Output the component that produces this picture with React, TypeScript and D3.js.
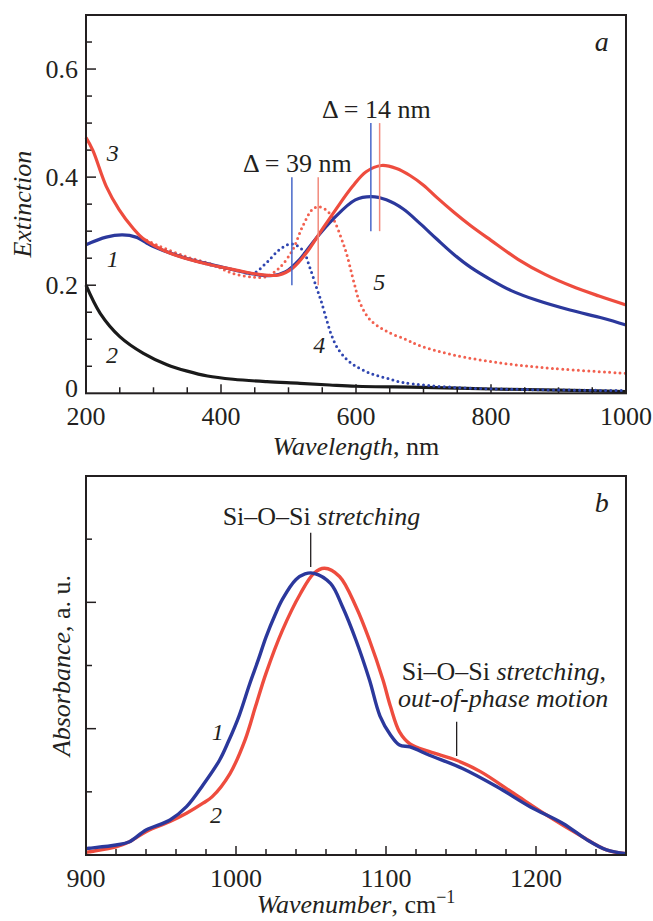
import React from "react";
import * as d3 from "d3";

// panel a: extinction spectra
const curve1Nm = [200, 230, 254, 274, 299, 348, 397, 447, 477, 496, 516, 541, 565, 599, 623, 645, 670, 695, 720, 745, 770, 800, 830, 868, 917, 966, 1000];
const curve1Ext = [0.275, 0.289, 0.293, 0.289, 0.272, 0.25, 0.235, 0.221, 0.218, 0.225, 0.247, 0.287, 0.321, 0.358, 0.364, 0.358, 0.341, 0.314, 0.285, 0.257, 0.233, 0.21, 0.19, 0.172, 0.154, 0.139, 0.1265];

const curve2Nm = [200, 221, 250, 285, 320, 350, 380, 418, 468, 517, 561, 600, 700, 800, 900, 1000];
const curve2Ext = [0.2, 0.148, 0.105, 0.074, 0.053, 0.041, 0.032, 0.026, 0.0215, 0.0185, 0.0154, 0.013, 0.011, 0.008, 0.006, 0.003];

const curve3Nm = [200, 210, 230, 249, 270, 284, 323, 373, 422, 462, 486, 506, 526, 546, 570, 595, 615, 638, 660, 680, 700, 720, 745, 770, 800, 840, 880, 920, 960, 1000];
const curve3Ext = [0.473, 0.45, 0.383, 0.34, 0.305, 0.287, 0.26, 0.241, 0.228, 0.219, 0.219, 0.2315, 0.259, 0.296, 0.34, 0.383, 0.41, 0.4215, 0.416, 0.403, 0.385, 0.362, 0.335, 0.31, 0.283, 0.248, 0.22, 0.198, 0.18, 0.1635];

const curve4Nm = [290, 314, 373, 422, 447, 467, 486, 504, 521, 531, 541, 548, 556, 563, 572, 586, 600, 621, 645, 670, 744, 850, 1000];
const curve4Ext = [0.278, 0.265, 0.241, 0.228, 0.222, 0.241, 0.265, 0.2765, 0.265, 0.235, 0.1975, 0.172, 0.138, 0.11, 0.085, 0.063, 0.05, 0.037, 0.028, 0.02, 0.011, 0.007, 0.005];

const curve5Nm = [290, 309, 348, 388, 417, 447, 467, 486, 506, 521, 536, 546, 561, 583, 597, 606, 621, 645, 675, 695, 744, 818, 892, 1000];
const curve5Ext = [0.283, 0.272, 0.253, 0.238, 0.222, 0.215, 0.216, 0.2315, 0.265, 0.309, 0.341, 0.345, 0.333, 0.27, 0.205, 0.167, 0.136, 0.115, 0.099, 0.088, 0.071, 0.0555, 0.046, 0.037];

const wlLabels = [200, 400, 600, 800, 1000];
const extLabels = [0, 0.2, 0.4, 0.6];

// panel b: IR absorbance
const ir1Wn = [900, 902, 920, 929, 940, 956, 967, 978, 989, 995, 1002, 1009, 1015, 1020, 1026, 1031, 1040, 1046, 1052, 1063, 1071, 1080, 1089, 1096, 1103, 1109, 1116, 1129, 1151, 1174, 1196, 1218, 1234, 1247, 1260];
const ir1Abs = [0.1, 0.106, 0.158, 0.21, 0.396, 0.554, 0.765, 1.108, 1.5, 1.8, 2.2, 2.7, 3.1, 3.45, 3.8, 4.05, 4.36, 4.45, 4.46, 4.3, 3.93, 3.4, 2.77, 2.2, 1.9, 1.74, 1.71, 1.58, 1.37, 1.08, 0.765, 0.5, 0.24, 0.08, 0.02];

const ir2Wn = [900, 902, 920, 929, 940, 956, 967, 978, 984, 996, 1006, 1013, 1020, 1031, 1043, 1052, 1059, 1069, 1080, 1089, 1098, 1103, 1109, 1116, 1129, 1147, 1163, 1185, 1207, 1229, 1247, 1260];
const ir2Abs = [0.04, 0.05, 0.13, 0.21, 0.37, 0.53, 0.66, 0.82, 0.92, 1.29, 1.82, 2.35, 2.876, 3.56, 4.14, 4.46, 4.54, 4.41, 3.93, 3.4, 2.77, 2.35, 1.95, 1.76, 1.635, 1.5, 1.32, 0.977, 0.633, 0.317, 0.08, 0.02];

const wnLabels = [900, 1000, 1100, 1200];

const RED = "#ee4c3e";
const BLUE = "#2b389c";
const FONT = "'Liberation Serif', 'Times New Roman', serif";

const L = 86, R = 626;
const aTop = 15, aBottom = 393.3;
const bTop = 476, bBottom = 855;

export default function App() {
  const xA = d3.scaleLinear().domain([200, 1000]).range([L, R]);
  const yA = d3.scaleLinear().domain([0, 0.7]).range([aBottom, aTop]);
  const xB = d3.scaleLinear().domain([900, 1260]).range([L, R]);
  const yB = d3.scaleLinear().domain([0, 6]).range([bBottom, bTop]);

  const lineA = (xs: number[], ys: number[]) =>
    d3.line<number>()
      .x((d, i) => xA(xs[i]))
      .y(d => yA(d))
      .curve(d3.curveCatmullRom.alpha(0.5))(ys) || "";
  const lineB = (xs: number[], ys: number[]) =>
    d3.line<number>()
      .x((d, i) => xB(xs[i]))
      .y(d => yB(d))
      .curve(d3.curveCatmullRom.alpha(0.5))(ys) || "";

  const wlTicks = d3.range(250, 1000, 50);
  const extTicks = d3.range(1, 14).map(i => i * 0.05);
  const wnTicks = d3.range(920, 1260, 20);
  const absTicks = [1, 2, 3, 4, 5];

  const txt = { fontFamily: FONT, fontSize: 26, fill: "#231f20" } as const;

  return (
    <svg width={653} height={921} style={{ position: "absolute", left: 0, top: 0, background: "#fff" }}>
      {/* ---------- panel a ---------- */}
      <g>
        {wlTicks.map(t => (
          <line key={"wt" + t} x1={xA(t)} x2={xA(t)} y1={aBottom} y2={aBottom - (t % 200 === 0 ? 9 : 6)} stroke="#231f20" strokeWidth={1.5} />
        ))}
        {extTicks.map(t => (
          <line key={"et" + t} x1={L} x2={L + (Math.round(t * 100) % 20 === 0 ? 10 : 6)} y1={yA(t)} y2={yA(t)} stroke="#231f20" strokeWidth={1.5} />
        ))}
        {wlLabels.map(t => (
          <text key={"wl" + t} x={xA(t)} y={aBottom + 32} textAnchor="middle" {...txt}>{t}</text>
        ))}
        {extLabels.map(t => (
          <text key={"el" + t} x={L - 8} y={yA(t) + (t === 0 ? 4 : 9)} textAnchor="end" {...txt}>{t}</text>
        ))}

        <path d={lineA(curve2Nm, curve2Ext)} fill="none" stroke="#1a1a1a" strokeWidth={3.2} />
        <path d={lineA(curve4Nm, curve4Ext)} fill="none" stroke="#2f45b0" strokeWidth={3} strokeDasharray="0 5.2" strokeLinecap="round" />
        <path d={lineA(curve5Nm, curve5Ext)} fill="none" stroke="#f2604f" strokeWidth={3} strokeDasharray="0 5.2" strokeLinecap="round" />
        <path d={lineA(curve1Nm, curve1Ext)} fill="none" stroke={BLUE} strokeWidth={3.2} />
        <path d={lineA(curve3Nm, curve3Ext)} fill="none" stroke={RED} strokeWidth={3.2} />

        {/* peak markers */}
        <line x1={xA(505)} x2={xA(505)} y1={yA(0.4)} y2={yA(0.2)} stroke="#4767c9" strokeWidth={1.5} />
        <line x1={xA(544)} x2={xA(544)} y1={yA(0.4)} y2={yA(0.2)} stroke="#f28a7c" strokeWidth={1.5} />
        <line x1={xA(622)} x2={xA(622)} y1={yA(0.5)} y2={yA(0.3)} stroke="#4767c9" strokeWidth={1.5} />
        <line x1={xA(635)} x2={xA(635)} y1={yA(0.5)} y2={yA(0.3)} stroke="#f28a7c" strokeWidth={1.5} />

        <text x={xA(549.6)} y={yA(0.51)} {...txt}>Δ = 14 nm</text>
        <text x={xA(432.6)} y={yA(0.41)} {...txt}>Δ = 39 nm</text>
        <text x={xA(230.6)} y={yA(0.429)} {...txt} fontSize={24} fontStyle="italic">3</text>
        <text x={xA(230.6)} y={yA(0.2345)} {...txt} fontSize={24} fontStyle="italic">1</text>
        <text x={xA(229.6)} y={yA(0.0556)} {...txt} fontSize={24} fontStyle="italic">2</text>
        <text x={xA(536.8)} y={yA(0.074)} {...txt} fontSize={24} fontStyle="italic">4</text>
        <text x={xA(625.6)} y={yA(0.191)} {...txt} fontSize={24} fontStyle="italic">5</text>
        <text x={xA(964)} y={yA(0.633)} textAnchor="middle" {...txt} fontSize={28} fontStyle="italic">a</text>

        <rect x={L} y={aTop} width={R - L} height={aBottom - aTop} fill="none" stroke="#231f20" strokeWidth={2} />

        <text x={(L + R) / 2} y={455} textAnchor="middle" {...txt}>
          <tspan fontStyle="italic">Wavelength</tspan>, nm
        </text>
        <text transform={`translate(31,${(aTop + aBottom) / 2}) rotate(-90)`} textAnchor="middle" {...txt} fontStyle="italic">Extinction</text>
      </g>

      {/* ---------- panel b ---------- */}
      <g>
        {wnTicks.map(t => (
          <line key={"nt" + t} x1={xB(t)} x2={xB(t)} y1={bBottom} y2={bBottom - (t % 100 === 0 ? 9 : 6)} stroke="#231f20" strokeWidth={1.5} />
        ))}
        {absTicks.map(t => (
          <line key={"at" + t} x1={L} x2={L + (t % 2 === 0 ? 10 : 6)} y1={yB(t)} y2={yB(t)} stroke="#231f20" strokeWidth={1.5} />
        ))}
        {wnLabels.map(t => (
          <text key={"nl" + t} x={xB(t)} y={bBottom + 32} textAnchor="middle" {...txt}>{t}</text>
        ))}

        <path d={lineB(ir2Wn, ir2Abs)} fill="none" stroke={RED} strokeWidth={3.4} />
        <path d={lineB(ir1Wn, ir1Abs)} fill="none" stroke={BLUE} strokeWidth={3.4} />

        <text x={xB(991.1)} y={yB(5.224)} {...txt}>
          Si–O–Si <tspan fontStyle="italic">stretching</tspan>
        </text>
        <line x1={xB(1049.8)} x2={xB(1049.8)} y1={yB(5.1)} y2={yB(4.56)} stroke="#231f20" strokeWidth={1.3} />

        <text x={xB(1110.5)} y={yB(2.77)} {...txt}>
          Si–O–Si <tspan fontStyle="italic">stretching</tspan>,
        </text>
        <text x={xB(1108)} y={yB(2.348)} {...txt} fontStyle="italic">out-of-phase motion</text>
        <line x1={xB(1147.1)} x2={xB(1147.1)} y1={yB(2.11)} y2={yB(1.567)} stroke="#231f20" strokeWidth={1.3} />

        <text x={xB(983.8)} y={yB(1.82)} {...txt} fontSize={24} fontStyle="italic">1</text>
        <text x={xB(982.7)} y={yB(0.507)} {...txt} fontSize={24} fontStyle="italic">2</text>
        <text x={xB(1243.8)} y={yB(5.435)} textAnchor="middle" {...txt} fontSize={28} fontStyle="italic">b</text>

        <rect x={L} y={bTop} width={R - L} height={bBottom - bTop} fill="none" stroke="#231f20" strokeWidth={2} />

        <text x={(L + R) / 2} y={913} textAnchor="middle" {...txt}>
          <tspan fontStyle="italic">Wavenumber</tspan>, cm<tspan dy={-10} fontSize={18}>−1</tspan>
        </text>
        <text transform={`translate(70,${(bTop + bBottom) / 2}) rotate(-90)`} textAnchor="middle" {...txt}>
          <tspan fontStyle="italic">Absorbance</tspan>, a. u.
        </text>
      </g>
    </svg>
  );
}
